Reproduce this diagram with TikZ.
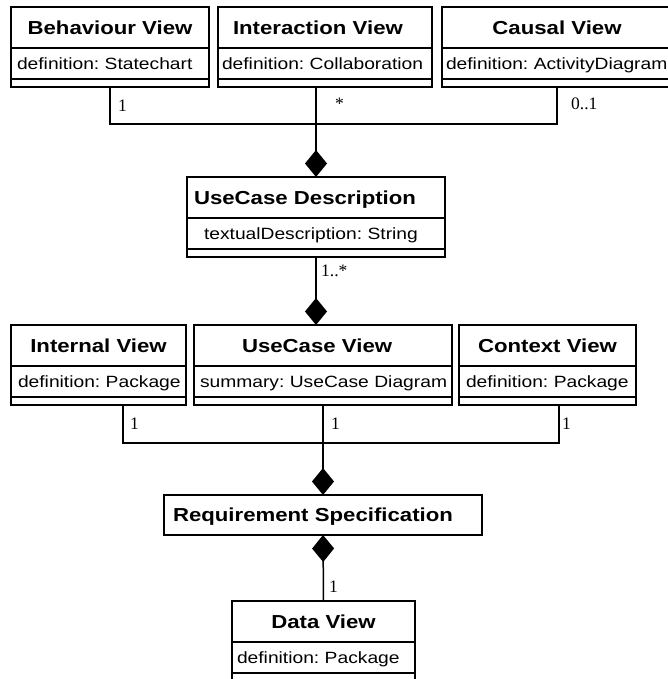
\documentclass[tikz,border=0pt]{standalone}
\usepackage{fontspec}
\setmainfont{Liberation Sans}[FakeStretch=1.18]
\newfontfamily\multfont{Liberation Serif}
\usetikzlibrary{positioning,arrows.meta}

\begin{document}
\frenchspacing
\begin{tikzpicture}[x=1pt, y=-1pt,
    umlbox/.style={draw, line width=1.6pt, outer sep=0pt, inner ysep=0pt},
    classname/.style={umlbox, minimum height=41pt, text height=17.5pt, text depth=4pt,
      font=\fontsize{18.8}{22}\selectfont\bfseries},
    attribute/.style={umlbox, minimum height=31pt, text height=15.7pt, text depth=4pt,
      align=left, font=\fontsize{16.3}{19}\selectfont,
      execute at begin node=\hbox\bgroup, execute at end node=\egroup},
    operations/.style={umlbox, minimum height=8pt},
    mult/.style={inner sep=0pt, anchor=base west, font=\multfont\fontsize{17.5}{20}\selectfont},
    assoc/.style={line width=1.5pt},
    composite/.style={assoc, -{Diamond[length=27pt,width=22pt]}}]
  \useasboundingbox (0,0) rectangle (667,679);

  % views making up the use case description
  \node[classname, minimum width=198pt, anchor=north west] (behav) at (11,7) {Behaviour View};
  \node[attribute, text width=186pt, inner xsep=6pt, below=0pt of behav] (behav-attr) {definition: Statechart};
  \node[operations, minimum width=198pt, below=0pt of behav-attr] (behav-ops) {};

  \node[classname, text width=184pt, inner xsep=15pt, align=left, anchor=north west] (inter) at (218,7) {Interaction View};
  \node[attribute, text width=206pt, inner xsep=4pt, below=0pt of inter] (inter-attr) {definition: Collaboration};
  \node[operations, minimum width=214pt, below=0pt of inter-attr] (inter-ops) {};

  \node[classname, minimum width=230pt, anchor=north west] (causal) at (442,7) {Causal View};
  \node[attribute, text width=222pt, inner xsep=4pt, below=0pt of causal] (causal-attr) {definition: ActivityDiagram};
  \node[operations, minimum width=230pt, below=0pt of causal-attr] (causal-ops) {};

  \node[classname, text width=244pt, inner xsep=7pt, align=left, anchor=north west] (ucdesc) at (187,177) {UseCase Description};
  \node[attribute, text width=224pt, inner xsep=17pt, below=0pt of ucdesc] (ucdesc-attr) {textualDescription: String};
  \node[operations, minimum width=258pt, below=0pt of ucdesc-attr] (ucdesc-ops) {};

  % views making up the requirement specification
  \node[classname, minimum width=175pt, anchor=north west] (internal) at (11,325) {Internal View};
  \node[attribute, text width=161pt, inner xsep=7pt, below=0pt of internal] (internal-attr) {definition: Package};
  \node[operations, minimum width=175pt, below=0pt of internal-attr] (internal-ops) {};

  \node[classname, text width=162pt, inner xsep=48pt, align=left, anchor=north west] (ucview) at (194,325) {UseCase View};
  \node[attribute, text width=246pt, inner xsep=6pt, below=0pt of ucview] (ucview-attr) {summary: UseCase Diagram};
  \node[operations, minimum width=258pt, below=0pt of ucview-attr] (ucview-ops) {};

  \node[classname, minimum width=177pt, anchor=north west] (context) at (459,325) {Context View};
  \node[attribute, text width=163pt, inner xsep=7pt, below=0pt of context] (context-attr) {definition: Package};
  \node[operations, minimum width=177pt, below=0pt of context-attr] (context-ops) {};

  \node[classname, minimum height=40pt, text width=300pt, inner xsep=9pt, align=left, anchor=north west] (reqspec) at (164,495) {Requirement Specification};

  \node[classname, minimum width=183pt, anchor=north west] (dataview) at (232,601) {Data View};
  \node[attribute, text width=173pt, inner xsep=5pt, below=0pt of dataview] (dataview-attr) {definition: Package};
  \node[operations, minimum width=183pt, below=0pt of dataview-attr] (dataview-ops) {};

  % compositions
  \coordinate (topjoin) at (316,124);
  \coordinate (midjoin) at (323,443);
  \draw[assoc] (behav-ops.south) |- (topjoin) -| (causal-ops.south);
  \draw[composite] (inter-ops.south -| ucdesc.north) -- (ucdesc.north);
  \draw[composite] (ucdesc-ops.south) -- (ucdesc-ops.south |- ucview.north);
  \draw[assoc] ([xshift=24.5pt]internal-ops.south) |- (midjoin) -| ([xshift=11.5pt]context-ops.south);
  \draw[assoc] (ucview-ops.south) -- (midjoin);
  \draw[composite] (midjoin) -- (reqspec.north);
  \draw[composite] (dataview.north) -- (reqspec.south);

  % multiplicities
  \node[mult] (m-behav) at (118,112) {1};
  \node[mult] (m-inter) at (335,110) {*};
  \node[mult] (m-causal) at (571,110) {0..1};
  \node[mult] (m-ucview) at (321,276) {1..*};
  \node[mult] (m-internal) at (130,429) {1};
  \node[mult] (m-ucsum) at (331,429) {1};
  \node[mult] (m-context) at (562,429) {1};
  \node[mult] (m-dataview) at (329,592) {1};
\end{tikzpicture}
\end{document}
